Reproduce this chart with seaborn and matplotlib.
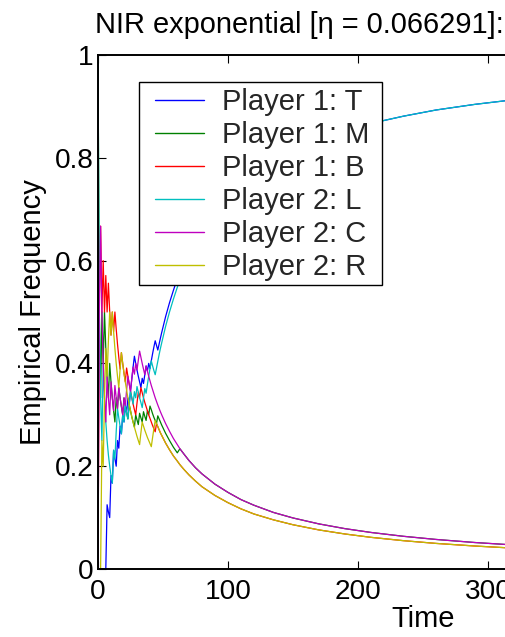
import matplotlib
matplotlib.use("Agg")
import matplotlib.pyplot as plt
from matplotlib.patches import Rectangle
import seaborn as sns

# Time steps: every step through the noisy opening, sparser once the play settles
steps = list(range(50)) + [52, 55, 58, 61, 63, 66, 70, 75, 80, 90, 100, 110, 120,
                            135, 150, 170, 190, 210, 235, 260, 290, 320, 360, 400, 450, 500]

p1_T = [0, 0, 0, 0, 0, 0, 0, .125, .111, .1,
        .182, .167, .231, .214, .2, .25, .235, .278, .263, .3,
        .286, .318, .304, .333, .32, .346, .37, .393, .414, .4,
        .387, .375, .364, .353, .371, .361, .378, .395, .385, .4,
        .39, .405, .419, .432, .444, .435, .426, .4375, .449, .46,
        .491, .518, .542, .565, .5625, .582, .606, .632, .654, .692, .723, .748, .769,
        .794, .815, .836, .853, .867, .881, .893, .904, .913, .922, .930, .938, .944]
p1_M = [1, .5, .333, .5, .4, .5, .429, .375, .333, .4,
        .364, .333, .308, .286, .333, .3125, .353, .333, .316, .3,
        .333, .318, .304, .292, .32, .308, .296, .286, .276, .3,
        .29, .281, .303, .294, .286, .306, .297, .289, .308, .3,
        .317, .31, .302, .295, .289, .283, .298, .292, .286, .28,
        .264, .25, .237, .226, .234, .224, .211, .197, .185, .165, .149, .135, .124,
        .110, .0993, .0877, .0785, .0711, .0636, .0575, .0515, .0467, .0416, .0374, .0333, .0299]
p1_B = [0, .5, .667, .5, .6, .5, .571, .5, .556, .5,
        .455, .5, .462, .5, .467, .4375, .412, .389, .421, .4,
        .381, .364, .391, .375, .36, .346, .333, .321, .31, .3,
        .323, .344, .333, .353, .343, .333, .324, .316, .308, .3,
        .293, .286, .279, .273, .267, .283, .277, .271, .265, .26,
        .245, .232, .220, .210, .203, .194, .183, .171, .160, .143, .129, .117, .107,
        .0956, .0861, .0760, .0681, .0616, .0551, .0498, .0447, .0405, .0360, .0324, .0288, .0259]
p2_L = [1, .5, .333, .25, .4, .333, .286, .25, .222, .2,
        .182, .167, .231, .214, .267, .3125, .294, .278, .263, .3,
        .286, .318, .304, .292, .32, .346, .333, .321, .345, .333,
        .355, .344, .333, .324, .314, .333, .351, .342, .359, .375,
        .39, .405, .395, .386, .378, .391, .404, .417, .429, .44,
        .472, .5, .525, .548, .5625, .582, .606, .632, .654, .692, .723, .748, .769,
        .794, .815, .836, .853, .867, .881, .893, .904, .913, .922, .930, .938, .944]
p2_C = [0, .5, .667, .5, .4, .333, .286, .375, .333, .3,
        .364, .333, .308, .357, .333, .3125, .353, .333, .316, .3,
        .333, .318, .348, .375, .36, .346, .37, .393, .379, .4,
        .387, .406, .424, .412, .4, .389, .378, .395, .385, .375,
        .366, .357, .349, .341, .333, .326, .319, .3125, .306, .3,
        .283, .268, .254, .242, .234, .224, .211, .197, .185, .165, .149, .135, .124,
        .110, .0993, .0877, .0785, .0711, .0636, .0575, .0515, .0467, .0416, .0374, .0333, .0299]
p2_R = [0, 0, 0, .25, .2, .333, .429, .375, .444, .5,
        .455, .5, .462, .429, .4, .375, .353, .389, .421, .4,
        .381, .364, .348, .333, .32, .308, .296, .286, .276, .267,
        .258, .25, .242, .265, .286, .278, .27, .263, .256, .25,
        .244, .238, .256, .273, .289, .283, .277, .271, .265, .26,
        .245, .232, .220, .210, .203, .194, .183, .171, .160, .143, .129, .117, .107,
        .0956, .0861, .0760, .0681, .0616, .0551, .0498, .0447, .0405, .0360, .0324, .0288, .0259]

series_labels = ["Player 1: T", "Player 1: M", "Player 1: B",
                 "Player 2: L", "Player 2: C", "Player 2: R"]
series_values = [p1_T, p1_M, p1_B, p2_L, p2_C, p2_R]
series_colors = [(0, 0, 1), (0, 0.5, 0), (1, 0, 0),
                 (0, 0.75, 0.75), (0.75, 0, 0.75), (0.75, 0.75, 0)]

x_ticks = [0, 100, 200, 300, 400, 500]
y_ticks = [0, 0.2, 0.4, 0.6, 0.8, 1]
y_tick_labels = ["0", "0.2", "0.4", "0.6", "0.8", "1"]

sns.set_theme(style="white")
plt.rcParams["font.family"] = ["Liberation Sans", "DejaVu Sans"]

W, H = 505, 637
fig = plt.figure(figsize=(W / 100, H / 100), dpi=100)
fig.patch.set_facecolor("white")

# axes box in pixels: left 98, top 55, bottom 569; runs on past the right edge
ax_left, ax_top, ax_bottom, ax_w = 98, 55, 569, 650
ax = fig.add_axes([ax_left / W, 1 - ax_bottom / H, ax_w / W, (ax_bottom - ax_top) / H])
ax.set_facecolor("white")

for label, vals, col in zip(series_labels, series_values, series_colors):
    sns.lineplot(x=steps, y=vals, color=col, linewidth=0.9, label=label,
                 ax=ax, estimator=None, sort=False, legend=False)

ax.set_xlim(0, 500)
ax.set_ylim(0, 1)
ax.set_xticks(x_ticks)
ax.set_yticks(y_ticks)
ax.set_yticklabels(y_tick_labels)

fs = 21
ax.tick_params(axis="both", which="major", direction="in", length=6, width=0.8,
               color="black", labelsize=20.2, labelcolor="black",
               top=True, right=True, bottom=True, left=True)
ax.tick_params(axis="y", pad=3)
ax.tick_params(axis="x", pad=7)
for s in ax.spines.values():
    s.set_visible(True)
    s.set_color("black")
    s.set_linewidth(1.4)

ax.set_xlabel("Time", fontsize=fs, color="black", labelpad=0)
ax.set_ylabel("Empirical Frequency", fontsize=fs, color="black", labelpad=6)
ax.set_title("NIR exponential [\u03b7 = 0.066291]:", fontsize=20.9, color="black",
             loc="left", x=-0.004, pad=16)

# legend box drawn square-cornered on top of the curves
box = Rectangle((139 / W, 1 - 285 / H), (382 - 139) / W, (285 - 82) / H,
                transform=fig.transFigure, facecolor="white", edgecolor="black",
                linewidth=1.0, zorder=4.5, clip_on=False)
ax.add_patch(box)

handles, labels = ax.get_legend_handles_labels()
leg = ax.legend(handles, labels, loc="upper left",
                bbox_to_anchor=(155 / W, 1 - 88 / H), bbox_transform=fig.transFigure,
                borderaxespad=0, borderpad=0, fontsize=fs, frameon=False,
                handlelength=1.68, handletextpad=0.62, labelspacing=0.17)
leg.set_zorder(5)
for h in leg.get_lines():
    h.set_linewidth(1.0)

fig.savefig("out.png", dpi=100, facecolor="white")
